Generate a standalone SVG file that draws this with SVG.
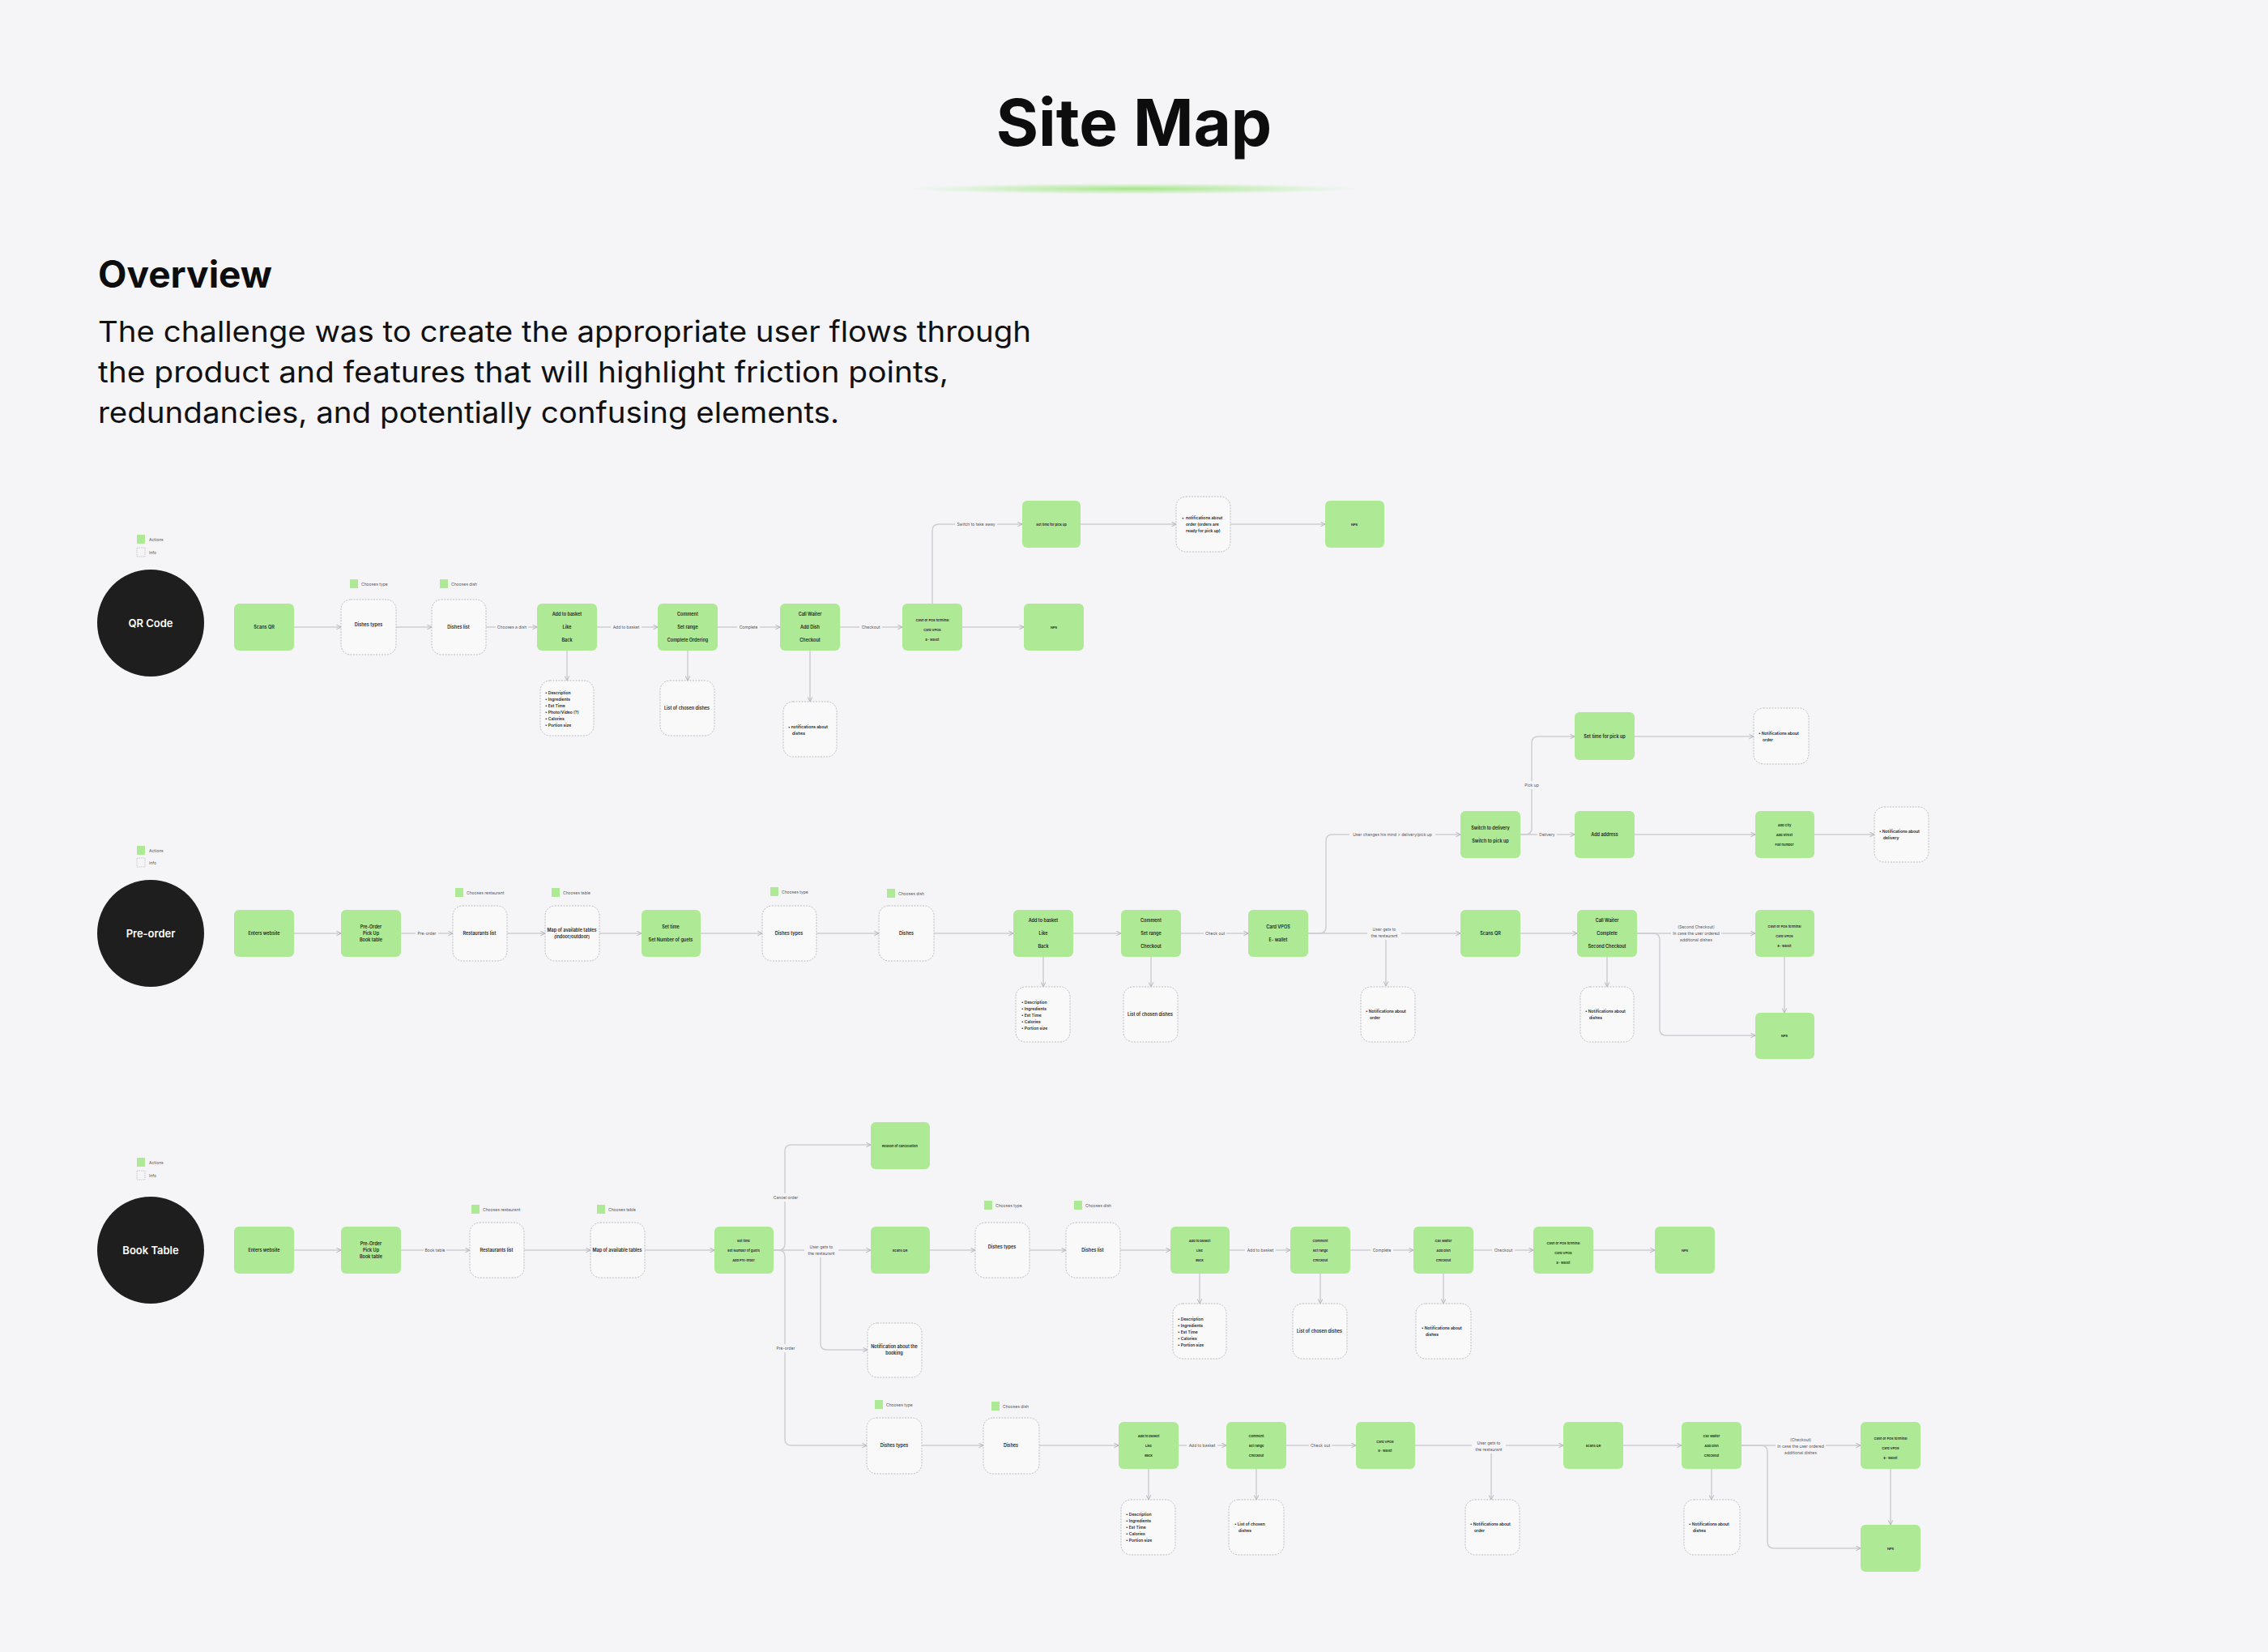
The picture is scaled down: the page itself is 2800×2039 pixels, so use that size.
<svg xmlns="http://www.w3.org/2000/svg" width="2800" height="2039" viewBox="0 0 2800 2039">
<defs>
<radialGradient id="glow" cx="50%" cy="50%" r="50%">
<stop offset="0" stop-color="#9EE37F" stop-opacity="0.95"/>
<stop offset="0.6" stop-color="#B5EBA0" stop-opacity="0.5"/>
<stop offset="1" stop-color="#C8F0B8" stop-opacity="0"/>
</radialGradient>
<marker id="ah" viewBox="0 0 10 10" refX="9" refY="5" markerWidth="7" markerHeight="7" markerUnits="userSpaceOnUse" orient="auto">
<path d="M1,1 L9,5 L1,9" fill="none" stroke="#B2B2B8" stroke-width="1.4"/>
</marker>
<style>
.g{fill:#AEEA96}
.i{fill:#F9F9F9;stroke:#BDBDC2;stroke-width:1;stroke-dasharray:2 1.5}
.c{fill:none;stroke:#CDCDD3;stroke-width:1.5;marker-end:url(#ah)}
text{font-family:Inter,"Liberation Sans",sans-serif}
.t{font-size:5.5px;font-weight:600;fill:#1F1F1F;text-anchor:middle;dominant-baseline:central}
.ts{font-size:4px;font-weight:600;fill:#1F1F1F;text-anchor:middle;dominant-baseline:central}
.tl{font-size:5px;font-weight:600;fill:#1F1F1F;dominant-baseline:central}
.l{font-size:5px;fill:#555559;text-anchor:middle;dominant-baseline:central}
.lg{font-size:5px;fill:#555559;dominant-baseline:central}
.lb{fill:#F5F5F8}
.circ{fill:#1E1E1E}
.ct{font-size:13px;font-weight:600;fill:#FFFFFF;text-anchor:middle;dominant-baseline:central}
.lgg{fill:#AEEA96}
.lgi{fill:none;stroke:#BDBDC2;stroke-width:0.8;stroke-dasharray:1.5 1}
</style>
</defs>
<rect width="2800" height="2039" fill="#F5F5F8"/>

<g id="header">
<text x="1400" y="180" font-family="Inter,'Liberation Sans',sans-serif" font-size="80" font-weight="700" fill="#0D0D0D" text-anchor="middle">Site Map</text>
<ellipse cx="1400" cy="233" rx="285" ry="7" fill="url(#glow)"/>
<text x="121" y="355" font-size="46" font-weight="700" fill="#0D0D0D">Overview</text>
<text font-size="36" font-weight="400" fill="#111111">
<tspan x="121" y="422" textLength="1152" lengthAdjust="spacingAndGlyphs">The challenge was to create the appropriate user flows through</tspan>
<tspan x="121" y="472" textLength="1050" lengthAdjust="spacingAndGlyphs">the product and features that will highlight friction points,</tspan>
<tspan x="121" y="522" textLength="915" lengthAdjust="spacingAndGlyphs">redundancies, and potentially confusing elements.</tspan>
</text>
</g>

<g id="legends">
<rect class="lgg" x="169" y="660" width="10" height="11"/><text class="lg" x="184" y="666">Actions</text>
<rect class="lgi" x="169" y="676" width="10" height="11"/><text class="lg" x="184" y="682">Info</text>
<rect class="lgg" x="169" y="1044" width="10" height="11"/><text class="lg" x="184" y="1050">Actions</text>
<rect class="lgi" x="169" y="1059" width="10" height="11"/><text class="lg" x="184" y="1065">Info</text>
<rect class="lgg" x="169" y="1429" width="10" height="11"/><text class="lg" x="184" y="1435">Actions</text>
<rect class="lgi" x="169" y="1445" width="10" height="11"/><text class="lg" x="184" y="1451">Info</text>
<rect class="lgg" x="432" y="715" width="10" height="11"/><text class="lg" x="446" y="721">Chooses type</text>
<rect class="lgg" x="543" y="715" width="10" height="11"/><text class="lg" x="557" y="721">Chooses dish</text>
<rect class="lgg" x="562" y="1096" width="10" height="11"/><text class="lg" x="576" y="1102">Chooses restaurant</text>
<rect class="lgg" x="681" y="1096" width="10" height="11"/><text class="lg" x="695" y="1102">Chooses table</text>
<rect class="lgg" x="951" y="1095" width="10" height="11"/><text class="lg" x="965" y="1101">Chooses type</text>
<rect class="lgg" x="1095" y="1097" width="10" height="11"/><text class="lg" x="1109" y="1103">Chooses dish</text>
<rect class="lgg" x="582" y="1487" width="10" height="11"/><text class="lg" x="596" y="1493">Chooses restaurant</text>
<rect class="lgg" x="737" y="1487" width="10" height="11"/><text class="lg" x="751" y="1493">Chooses table</text>
<rect class="lgg" x="1215" y="1482" width="10" height="11"/><text class="lg" x="1229" y="1488">Chooses type</text>
<rect class="lgg" x="1326" y="1482" width="10" height="11"/><text class="lg" x="1340" y="1488">Chooses dish</text>
<rect class="lgg" x="1080" y="1728" width="10" height="11"/><text class="lg" x="1094" y="1734">Chooses type</text>
<rect class="lgg" x="1224" y="1730" width="10" height="11"/><text class="lg" x="1238" y="1736">Chooses dish</text>
</g>

<g id="connectors">
<path class="c" d="M363,774 H421"/>
<path class="c" d="M489,774 H533"/>
<path class="c" d="M600,774 H663"/>
<path class="c" d="M737,774 H812"/>
<path class="c" d="M886,774 H963"/>
<path class="c" d="M1037,774 H1114"/>
<path class="c" d="M1188,774 H1264"/>
<path class="c" d="M1151,745 V655 Q1151,647 1159,647 H1262"/>
<path class="c" d="M1334,647 H1452"/>
<path class="c" d="M1519,647 H1636"/>
<path class="c" d="M700,803 V840"/>
<path class="c" d="M849,803 V840"/>
<path class="c" d="M1000,803 V866"/>

<path class="c" d="M363,1152 H421"/>
<path class="c" d="M495,1152 H559"/>
<path class="c" d="M626,1152 H673"/>
<path class="c" d="M740,1152 H792"/>
<path class="c" d="M865,1152 H941"/>
<path class="c" d="M1008,1152 H1085"/>
<path class="c" d="M1153,1152 H1251"/>
<path class="c" d="M1325,1152 H1384"/>
<path class="c" d="M1458,1152 H1541"/>
<path class="c" d="M1288,1181 V1218"/>
<path class="c" d="M1421,1181 V1218"/>
<path class="c" d="M1615,1152 H1803"/>
<path class="c" d="M1615,1152 H1629 Q1637,1152 1637,1144 V1038 Q1637,1030 1645,1030 H1803"/>
<path class="c" d="M1711,1160 V1217"/>
<path class="c" d="M1877,1030 H1944"/>
<path class="c" d="M1877,1030 H1883 Q1891,1030 1891,1022 V917 Q1891,909 1899,909 H1944"/>
<path class="c" d="M2018,909 H2165"/>
<path class="c" d="M2018,1030 H2167"/>
<path class="c" d="M2240,1030 H2314"/>
<path class="c" d="M1877,1152 H1947"/>
<path class="c" d="M2021,1152 H2167"/>
<path class="c" d="M2021,1152 H2041 Q2049,1152 2049,1160 V1270 Q2049,1278 2057,1278 H2167"/>
<path class="c" d="M2203,1181 V1250"/>
<path class="c" d="M1984,1181 V1218"/>

<path class="c" d="M363,1543 H421"/>
<path class="c" d="M495,1543 H580"/>
<path class="c" d="M647,1543 H729"/>
<path class="c" d="M796,1543 H882"/>
<path class="c" d="M955,1543 H1075"/>
<path class="c" d="M955,1543 H961 Q969,1543 969,1535 V1421 Q969,1413 977,1413 H1075"/>
<path class="c" d="M961,1543 Q969,1543 969,1551 V1776 Q969,1784 977,1784 H1070"/>
<path class="c" d="M1013,1552 V1658 Q1013,1666 1021,1666 H1071"/>
<path class="c" d="M1148,1543 H1204"/>
<path class="c" d="M1271,1543 H1316"/>
<path class="c" d="M1383,1543 H1445"/>
<path class="c" d="M1518,1543 H1593"/>
<path class="c" d="M1667,1543 H1745"/>
<path class="c" d="M1819,1543 H1893"/>
<path class="c" d="M1967,1543 H2043"/>
<path class="c" d="M1481,1572 V1609"/>
<path class="c" d="M1630,1572 V1609"/>
<path class="c" d="M1782,1572 V1609"/>

<path class="c" d="M1138,1784 H1214"/>
<path class="c" d="M1283,1784 H1381"/>
<path class="c" d="M1455,1784 H1514"/>
<path class="c" d="M1588,1784 H1674"/>
<path class="c" d="M1747,1784 H1930"/>
<path class="c" d="M1841,1793 V1851"/>
<path class="c" d="M2004,1784 H2076"/>
<path class="c" d="M2150,1784 H2297"/>
<path class="c" d="M2150,1784 H2174 Q2182,1784 2182,1792 V1903 Q2182,1911 2190,1911 H2297"/>
<path class="c" d="M2334,1813 V1882"/>
<path class="c" d="M1418,1813 V1851"/>
<path class="c" d="M1551,1813 V1851"/>
<path class="c" d="M2113,1813 V1851"/>

<g id="connector-labels">
<rect class="lb" x="612" y="769" width="40" height="10"/><text class="l" x="632" y="774">Chooses a dish</text>
<rect class="lb" x="754" y="769" width="38" height="10"/><text class="l" x="773" y="774">Add to basket</text>
<rect class="lb" x="910" y="769" width="28" height="10"/><text class="l" x="924" y="774">Complete</text>
<rect class="lb" x="1061" y="769" width="28" height="10"/><text class="l" x="1075" y="774">Checkout</text>
<rect class="lb" x="1179" y="642" width="52" height="10"/><text class="l" x="1205" y="647">Switch to take away</text>
<rect class="lb" x="513" y="1147" width="28" height="10"/><text class="l" x="527" y="1152">Pre-order</text>
<rect class="lb" x="1486" y="1147" width="28" height="10"/><text class="l" x="1500" y="1152">Check out</text>
<rect class="lb" x="1666" y="1025" width="106" height="10"/><text class="l" x="1719" y="1030">User changes his mind &gt; delivery/pick up</text>
<rect class="lb" x="1688" y="1142" width="42" height="18"/><text class="l" x="1709" y="1147">User gets to</text><text class="l" x="1709" y="1155">the restaurant</text>
<rect class="lb" x="1898" y="1025" width="24" height="10"/><text class="l" x="1910" y="1030">Delivery</text>
<rect class="lb" x="1880" y="964" width="22" height="10"/><text class="l" x="1891" y="969">Pick up</text>
<rect class="lb" x="2063" y="1138" width="62" height="27"/><text class="l" x="2094" y="1144">(Second Checkout)</text><text class="l" x="2094" y="1152">In case the user ordered</text><text class="l" x="2094" y="1160">additional dishes</text>
<rect class="lb" x="523" y="1538" width="28" height="10"/><text class="l" x="537" y="1543">Book table</text>
<rect class="lb" x="953" y="1473" width="34" height="10"/><text class="l" x="970" y="1478">Cancel order</text>
<rect class="lb" x="993" y="1534" width="42" height="18"/><text class="l" x="1014" y="1539">User gets to</text><text class="l" x="1014" y="1547">the restaurant</text>
<rect class="lb" x="957" y="1659" width="26" height="10"/><text class="l" x="970" y="1664">Pre-order</text>
<rect class="lb" x="1537" y="1538" width="38" height="10"/><text class="l" x="1556" y="1543">Add to basket</text>
<rect class="lb" x="1692" y="1538" width="28" height="10"/><text class="l" x="1706" y="1543">Complete</text>
<rect class="lb" x="1842" y="1538" width="28" height="10"/><text class="l" x="1856" y="1543">Checkout</text>
<rect class="lb" x="1465" y="1779" width="38" height="10"/><text class="l" x="1484" y="1784">Add to basket</text>
<rect class="lb" x="1616" y="1779" width="28" height="10"/><text class="l" x="1630" y="1784">Check out</text>
<rect class="lb" x="1817" y="1776" width="42" height="18"/><text class="l" x="1838" y="1781">User gets to</text><text class="l" x="1838" y="1789">the restaurant</text>
<rect class="lb" x="2192" y="1771" width="62" height="27"/><text class="l" x="2223" y="1777">(Checkout)</text><text class="l" x="2223" y="1785">In case the user ordered</text><text class="l" x="2223" y="1793">additional dishes</text>
</g>
</g>

<g id="qr-code"><circle class="circ" cx="186" cy="769" r="66"/><text class="ct" x="186" y="769">QR Code</text></g>
<g id="q-scan"><rect class="g" x="289" y="745" width="74" height="58" rx="6"/><text class="t" x="326" y="774">Scans QR</text></g>
<g id="q-types"><rect class="i" x="421" y="740" width="68" height="68" rx="12"/><text class="t" x="455" y="771">Dishes types</text></g>
<g id="q-list"><rect class="i" x="533" y="740" width="67" height="68" rx="12"/><text class="t" x="566" y="774">Dishes list</text></g>
<g id="q-add"><rect class="g" x="663" y="745" width="74" height="58" rx="6"/><text class="t" x="700" y="758">Add to basket</text><text class="t" x="700" y="774">Like</text><text class="t" x="700" y="790">Back</text></g>
<g id="q-comment"><rect class="g" x="812" y="745" width="74" height="58" rx="6"/><text class="t" x="849" y="758">Comment</text><text class="t" x="849" y="774">Set range</text><text class="t" x="849" y="790">Complete Ordering</text></g>
<g id="q-waiter"><rect class="g" x="963" y="745" width="74" height="58" rx="6"/><text class="t" x="1000" y="758">Call Waiter</text><text class="t" x="1000" y="774">Add Dish</text><text class="t" x="1000" y="790">Checkout</text></g>
<g id="q-cash"><rect class="g" x="1114" y="745" width="74" height="58" rx="6"/><text class="ts" x="1151" y="765">Cash or POS terminal</text><text class="ts" x="1151" y="777">Card VPOS</text><text class="ts" x="1151" y="789">E- wallet</text></g>
<g id="q-nps"><rect class="g" x="1264" y="745" width="74" height="58" rx="6"/><text class="ts" x="1301" y="774">NPS</text></g>
<g id="q-pickup"><rect class="g" x="1262" y="618" width="72" height="58" rx="6"/><text class="ts" x="1298" y="647">Set time for pick up</text></g>
<g id="q-notif-order"><rect class="i" x="1452" y="613" width="67" height="68" rx="12"/><text class="tl" x="1459" y="639">•</text><text class="tl" x="1464" y="639">notifications about</text><text class="tl" x="1464" y="647">order (orders are</text><text class="tl" x="1464" y="655">ready for pick up)</text></g>
<g id="q-nps2"><rect class="g" x="1636" y="618" width="73" height="58" rx="6"/><text class="ts" x="1672" y="647">NPS</text></g>
<g id="q-info-dish"><rect class="i" x="667" y="840" width="66" height="68" rx="12"/>
<text class="tl" x="673" y="855">• Description</text><text class="tl" x="673" y="863">• Ingredients</text><text class="tl" x="673" y="871">• Est Time</text><text class="tl" x="673" y="879">• Photo/Video (?)</text><text class="tl" x="673" y="887">• Calories</text><text class="tl" x="673" y="895">• Portion size</text></g>
<g id="q-info-list"><rect class="i" x="815" y="840" width="67" height="68" rx="12"/><text class="t" x="848" y="874">List of chosen dishes</text></g>
<g id="q-notif-dish"><rect class="i" x="967" y="866" width="66" height="68" rx="12"/><text class="tl" x="973" y="897">• notifications about</text><text class="tl" x="978" y="905">dishes</text></g>

<g id="pre-order"><circle class="circ" cx="186" cy="1152" r="66"/><text class="ct" x="186" y="1152">Pre-order</text></g>
<g id="p-enter"><rect class="g" x="289" y="1123" width="74" height="58" rx="6"/><text class="t" x="326" y="1152">Enters website</text></g>
<g id="p-mode"><rect class="g" x="421" y="1123" width="74" height="58" rx="6"/><text class="t" x="458" y="1144">Pre-Order</text><text class="t" x="458" y="1152">Pick Up</text><text class="t" x="458" y="1160">Book table</text></g>
<g id="p-rest"><rect class="i" x="559" y="1118" width="67" height="68" rx="12"/><text class="t" x="592" y="1152">Restaurants list</text></g>
<g id="p-map"><rect class="i" x="673" y="1118" width="67" height="68" rx="12"/><text class="t" x="706" y="1148">Map of available tables</text><text class="t" x="706" y="1156">(indoor/outdoor)</text></g>
<g id="p-time"><rect class="g" x="792" y="1123" width="73" height="58" rx="6"/><text class="t" x="828" y="1144">Set time</text><text class="t" x="828" y="1160">Set Number of guets</text></g>
<g id="p-types"><rect class="i" x="941" y="1118" width="67" height="68" rx="12"/><text class="t" x="974" y="1152">Dishes types</text></g>
<g id="p-dishes"><rect class="i" x="1085" y="1118" width="68" height="68" rx="12"/><text class="t" x="1119" y="1152">Dishes</text></g>
<g id="p-add"><rect class="g" x="1251" y="1123" width="74" height="58" rx="6"/><text class="t" x="1288" y="1136">Add to basket</text><text class="t" x="1288" y="1152">Like</text><text class="t" x="1288" y="1168">Back</text></g>
<g id="p-comment"><rect class="g" x="1384" y="1123" width="74" height="58" rx="6"/><text class="t" x="1421" y="1136">Comment</text><text class="t" x="1421" y="1152">Set range</text><text class="t" x="1421" y="1168">Checkout</text></g>
<g id="p-card"><rect class="g" x="1541" y="1123" width="74" height="58" rx="6"/><text class="t" x="1578" y="1144">Card VPOS</text><text class="t" x="1578" y="1160">E- wallet</text></g>
<g id="p-info-dish"><rect class="i" x="1254" y="1218" width="67" height="68" rx="12"/>
<text class="tl" x="1261" y="1237">• Description</text><text class="tl" x="1261" y="1245">• Ingredients</text><text class="tl" x="1261" y="1253">• Est Time</text><text class="tl" x="1261" y="1261">• Calories</text><text class="tl" x="1261" y="1269">• Portion size</text></g>
<g id="p-info-list"><rect class="i" x="1387" y="1218" width="67" height="68" rx="12"/><text class="t" x="1420" y="1252">List of chosen dishes</text></g>
<g id="p-switch"><rect class="g" x="1803" y="1001" width="74" height="58" rx="6"/><text class="t" x="1840" y="1022">Switch to delivery</text><text class="t" x="1840" y="1038">Switch to pick up</text></g>
<g id="p-pickup"><rect class="g" x="1944" y="879" width="74" height="59" rx="6"/><text class="t" x="1981" y="909">Set time for pick up</text></g>
<g id="p-notif-order2"><rect class="i" x="2165" y="874" width="68" height="69" rx="12"/><text class="tl" x="2171" y="905">• Notifications about</text><text class="tl" x="2176" y="913">order</text></g>
<g id="p-address"><rect class="g" x="1944" y="1001" width="74" height="58" rx="6"/><text class="t" x="1981" y="1030">Add address</text></g>
<g id="p-city"><rect class="g" x="2167" y="1001" width="73" height="58" rx="6"/><text class="ts" x="2203" y="1018">Add City</text><text class="ts" x="2203" y="1030">Add Street</text><text class="ts" x="2203" y="1042">Flat number</text></g>
<g id="p-notif-deliv"><rect class="i" x="2314" y="996" width="67" height="68" rx="12"/><text class="tl" x="2320" y="1026">• Notifications about</text><text class="tl" x="2325" y="1034">delivery</text></g>
<g id="p-scan"><rect class="g" x="1803" y="1123" width="74" height="58" rx="6"/><text class="t" x="1840" y="1152">Scans QR</text></g>
<g id="p-notif-order"><rect class="i" x="1680" y="1218" width="67" height="68" rx="12"/><text class="tl" x="1686" y="1248">• Notifications about</text><text class="tl" x="1691" y="1256">order</text></g>
<g id="p-waiter"><rect class="g" x="1947" y="1123" width="74" height="58" rx="6"/><text class="t" x="1984" y="1136">Call Waiter</text><text class="t" x="1984" y="1152">Complete</text><text class="t" x="1984" y="1168">Second Checkout</text></g>
<g id="p-notif-dish"><rect class="i" x="1951" y="1218" width="66" height="68" rx="12"/><text class="tl" x="1957" y="1248">• Notifications about</text><text class="tl" x="1962" y="1256">dishes</text></g>
<g id="p-cash"><rect class="g" x="2167" y="1123" width="73" height="58" rx="6"/><text class="ts" x="2203" y="1143">Cash or POS terminal</text><text class="ts" x="2203" y="1155">Card VPOS</text><text class="ts" x="2203" y="1167">E- wallet</text></g>
<g id="p-nps"><rect class="g" x="2167" y="1250" width="73" height="57" rx="6"/><text class="ts" x="2203" y="1278">NPS</text></g>

<g id="book-table"><circle class="circ" cx="186" cy="1543" r="66"/><text class="ct" x="186" y="1543">Book Table</text></g>
<g id="b-enter"><rect class="g" x="289" y="1514" width="74" height="58" rx="6"/><text class="t" x="326" y="1543">Enters website</text></g>
<g id="b-mode"><rect class="g" x="421" y="1514" width="74" height="58" rx="6"/><text class="t" x="458" y="1535">Pre-Order</text><text class="t" x="458" y="1543">Pick Up</text><text class="t" x="458" y="1551">Book table</text></g>
<g id="b-rest"><rect class="i" x="580" y="1509" width="67" height="68" rx="12"/><text class="t" x="613" y="1543">Restaurants list</text></g>
<g id="b-map"><rect class="i" x="729" y="1509" width="67" height="68" rx="12"/><text class="t" x="762" y="1543">Map of available tables</text></g>
<g id="b-time"><rect class="g" x="882" y="1514" width="73" height="58" rx="6"/><text class="ts" x="918" y="1531">Set time</text><text class="ts" x="918" y="1543">Set Number of guets</text><text class="ts" x="918" y="1555">Add Pre-order</text></g>
<g id="b-cancel"><rect class="g" x="1075" y="1385" width="73" height="58" rx="6"/><text class="ts" x="1111" y="1414">Reason of cancellation</text></g>
<g id="b-scan"><rect class="g" x="1075" y="1514" width="73" height="58" rx="6"/><text class="ts" x="1111" y="1543">Scans QR</text></g>
<g id="b-notif-book"><rect class="i" x="1071" y="1633" width="67" height="67" rx="12"/><text class="t" x="1104" y="1662">Notification about the</text><text class="t" x="1104" y="1670">booking</text></g>
<g id="b-types"><rect class="i" x="1204" y="1509" width="67" height="68" rx="12"/><text class="t" x="1237" y="1539">Dishes types</text></g>
<g id="b-list"><rect class="i" x="1316" y="1509" width="67" height="68" rx="12"/><text class="t" x="1349" y="1543">Dishes list</text></g>
<g id="b-add"><rect class="g" x="1445" y="1514" width="73" height="58" rx="6"/><text class="ts" x="1481" y="1531">Add to basket</text><text class="ts" x="1481" y="1543">Like</text><text class="ts" x="1481" y="1555">Back</text></g>
<g id="b-comment"><rect class="g" x="1593" y="1514" width="74" height="58" rx="6"/><text class="ts" x="1630" y="1531">Comment</text><text class="ts" x="1630" y="1543">Set range</text><text class="ts" x="1630" y="1555">Checkout</text></g>
<g id="b-waiter"><rect class="g" x="1745" y="1514" width="74" height="58" rx="6"/><text class="ts" x="1782" y="1531">Call Waiter</text><text class="ts" x="1782" y="1543">Add Dish</text><text class="ts" x="1782" y="1555">Checkout</text></g>
<g id="b-cash"><rect class="g" x="1893" y="1514" width="74" height="58" rx="6"/><text class="ts" x="1930" y="1534">Cash or POS terminal</text><text class="ts" x="1930" y="1546">Card VPOS</text><text class="ts" x="1930" y="1558">E- wallet</text></g>
<g id="b-nps"><rect class="g" x="2043" y="1514" width="74" height="58" rx="6"/><text class="ts" x="2080" y="1543">NPS</text></g>
<g id="b-info-dish"><rect class="i" x="1448" y="1609" width="66" height="68" rx="12"/>
<text class="tl" x="1454" y="1628">• Description</text><text class="tl" x="1454" y="1636">• Ingredients</text><text class="tl" x="1454" y="1644">• Est Time</text><text class="tl" x="1454" y="1652">• Calories</text><text class="tl" x="1454" y="1660">• Portion size</text></g>
<g id="b-info-list"><rect class="i" x="1596" y="1609" width="67" height="68" rx="12"/><text class="t" x="1629" y="1643">List of chosen dishes</text></g>
<g id="b-notif-dish"><rect class="i" x="1748" y="1609" width="68" height="68" rx="12"/><text class="tl" x="1755" y="1639">• Notifications about</text><text class="tl" x="1760" y="1647">dishes</text></g>

<g id="b2-types"><rect class="i" x="1070" y="1750" width="68" height="69" rx="12"/><text class="t" x="1104" y="1784">Dishes types</text></g>
<g id="b2-dishes"><rect class="i" x="1214" y="1750" width="69" height="69" rx="12"/><text class="t" x="1248" y="1784">Dishes</text></g>
<g id="b2-add"><rect class="g" x="1381" y="1755" width="74" height="58" rx="6"/><text class="ts" x="1418" y="1772">Add to basket</text><text class="ts" x="1418" y="1784">Like</text><text class="ts" x="1418" y="1796">Back</text></g>
<g id="b2-comment"><rect class="g" x="1514" y="1755" width="74" height="58" rx="6"/><text class="ts" x="1551" y="1772">Comment</text><text class="ts" x="1551" y="1784">Set range</text><text class="ts" x="1551" y="1796">Checkout</text></g>
<g id="b2-card"><rect class="g" x="1674" y="1755" width="73" height="58" rx="6"/><text class="ts" x="1710" y="1779">Card VPOS</text><text class="ts" x="1710" y="1790">E- wallet</text></g>
<g id="b2-scan"><rect class="g" x="1930" y="1755" width="74" height="58" rx="6"/><text class="ts" x="1967" y="1784">Scans QR</text></g>
<g id="b2-waiter"><rect class="g" x="2076" y="1755" width="74" height="58" rx="6"/><text class="ts" x="2113" y="1772">Call Waiter</text><text class="ts" x="2113" y="1784">Add Dish</text><text class="ts" x="2113" y="1796">Checkout</text></g>
<g id="b2-cash"><rect class="g" x="2297" y="1755" width="74" height="58" rx="6"/><text class="ts" x="2334" y="1775">Cash or POS terminal</text><text class="ts" x="2334" y="1787">Card VPOS</text><text class="ts" x="2334" y="1799">E- wallet</text></g>
<g id="b2-nps"><rect class="g" x="2297" y="1882" width="74" height="58" rx="6"/><text class="ts" x="2334" y="1911">NPS</text></g>
<g id="b2-info-dish"><rect class="i" x="1384" y="1851" width="67" height="68" rx="12"/>
<text class="tl" x="1390" y="1869">• Description</text><text class="tl" x="1390" y="1877">• Ingredients</text><text class="tl" x="1390" y="1885">• Est Time</text><text class="tl" x="1390" y="1893">• Calories</text><text class="tl" x="1390" y="1901">• Portion size</text></g>
<g id="b2-info-list"><rect class="i" x="1517" y="1851" width="68" height="68" rx="12"/><text class="tl" x="1524" y="1881">• List of chosen</text><text class="tl" x="1529" y="1889">dishes</text></g>
<g id="b2-notif-order"><rect class="i" x="1809" y="1851" width="67" height="68" rx="12"/><text class="tl" x="1815" y="1881">• Notifications about</text><text class="tl" x="1820" y="1889">order</text></g>
<g id="b2-notif-dish"><rect class="i" x="2079" y="1851" width="69" height="68" rx="12"/><text class="tl" x="2085" y="1881">• Notifications about</text><text class="tl" x="2090" y="1889">dishes</text></g>
</svg>
